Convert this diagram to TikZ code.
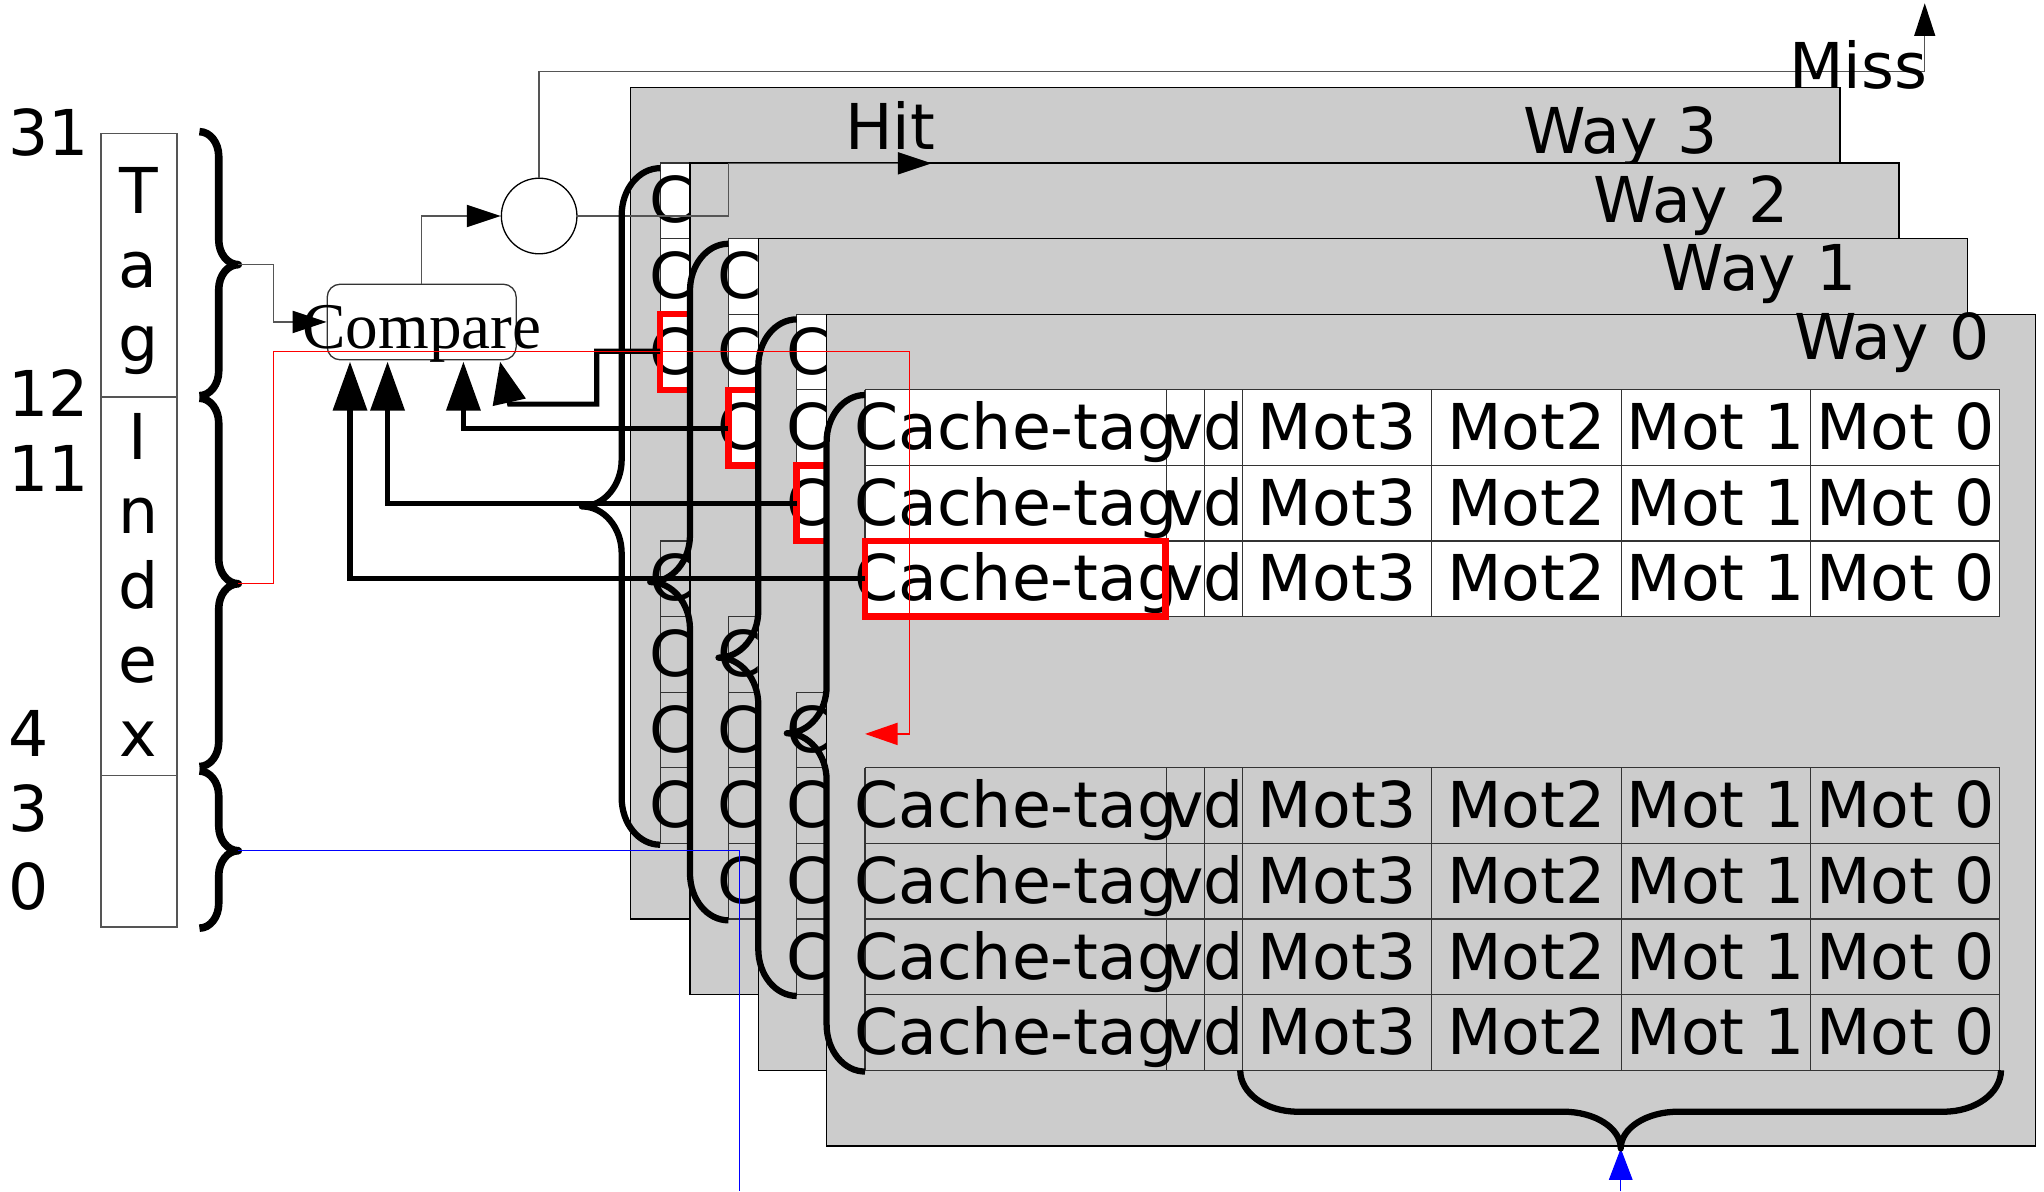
\documentclass[tikz,border=0pt]{standalone}
\usepackage{fontspec}
\setmainfont{DejaVu Sans}
\newfontfamily\cmpserif{Liberation Serif}
\usetikzlibrary{arrows.meta}
\definecolor{waygray}{HTML}{CCCCCC}
\definecolor{lgray}{HTML}{555555}
\definecolor{gridc}{HTML}{333333}
\newcommand\wayfont{\fontsize{48.5}{58}\selectfont}
\tikzset{
 celltext/.style={anchor=base,inner sep=0pt,font=\wayfont},
 bigtext/.style={anchor=base,inner sep=0pt,font=\wayfont},
 wayedge/.style={draw=black,line width=1pt},
 gridline/.style={draw=gridc,line width=0.9pt},
 redbox/.style={draw=red,line width=5pt},
 thinconn/.style={draw=lgray,line width=1.1pt},
 bracestyle/.style={draw=black,line width=4.8pt,line join=round},
 leftbrace/.style={draw=black,line width=5.8pt,line join=round},
 thickconn/.style={draw=black,line width=4pt},
 bigtip/.style={-{Triangle[length=37.6pt,width=25.7pt]}},
 smalltip/.style={-{Triangle[length=26pt,width=17pt,color=black]}},
 fieldbox/.style={draw=lgray,line width=1.1pt,minimum width=58.2pt,inner sep=0pt,anchor=north west},
}
% one way of the cache, drawn at its offset
\newcommand\drawway[2]{%
\begin{scope}[shift={(-52.4*#1,-58*#1)}]
 \fill[waygray] ({634+#2},241.1) rectangle ({1561.6+#2},879);
 \draw[wayedge] ({634+#2},241.1) rectangle ({1561.6+#2},879);
 \fill[white] (663.6,299) rectangle (1534,473);
 \foreach \y in {299,357,415,473,589,647,705,763,821} \draw[gridline] (663.6,\y) -- (1534,\y);
 \foreach \x in {663.6,895,924,953,1098.3,1243.6,1388.9,1534} {\draw[gridline] (\x,299) -- (\x,473); \draw[gridline] (\x,589) -- (\x,821);}
 \foreach \ry [count=\ri] in {299,357,415,589,647,705,763} {
   \foreach \cx/\txt [count=\ci] in {779.3/Cache-tag,909.5/v,938.5/d,1025.7/Mot3,1171/Mot2,1316.3/Mot 1,1461.5/Mot 0}
     \node[celltext] (w#1-\ri-\ci) at (\cx,\ry+46) {\txt};
 }
 \draw[redbox] (663.6,415) rectangle (894,473);
\end{scope}}
% vertical brace: xend, xvert, xtip, ytop, ymid, ybot, r, style
\newcommand\vbrace[8]{%
 \draw[#8] (#1,#4) .. controls ({(#1)+0.552*((#2)-(#1))},#4) and (#2,{(#4)+0.448*(#7)}) .. (#2,{(#4)+(#7)})
 -- (#2,{(#5)-(#7)}) .. controls (#2,{(#5)-0.448*(#7)}) and ({(#3)+0.552*((#2)-(#3))},#5) .. (#3,#5)
 .. controls ({(#3)+0.552*((#2)-(#3))},#5) and (#2,{(#5)+0.448*(#7)}) .. (#2,{(#5)+(#7)})
 -- (#2,{(#6)-(#7)}) .. controls (#2,{(#6)-0.448*(#7)}) and ({(#1)+0.552*((#2)-(#1))},#6) .. (#1,#6);}
\newcommand\wbrace[1]{%
 \pgfmathsetmacro\xt{663.6-52.4*#1}%
 \pgfmathsetmacro\yt{303-58*#1}%
 \pgfmathsetmacro\yb{822-58*#1}%
 \pgfmathsetmacro\ym{562.5-58*#1}%
 \vbrace{\xt}{\xt-29.5}{\xt-60}{\yt}{\ym}{\yb}{36}{bracestyle}}
\begin{document}
\begin{tikzpicture}[x=1pt,y=-1pt]
\useasboundingbox (0,0) rectangle (1568,914);

\drawway{3}{7}
\node[bigtext] (lw3) at (1243.3,118) {Way 3};
\drawway{2}{0}
\node[bigtext] (lw2) at (1297.3,170.8) {Way 2};
\drawway{1}{0}
\node[bigtext] (lw1) at (1349.4,223.2) {Way 1};
\drawway{0}{0}
\node[bigtext] (lw0) at (1451.2,275.7) {Way 0};

% address fields
\node[fieldbox,minimum height=202pt] (tagf) at (77,102) {};
\node[fieldbox,minimum height=290.5pt] (idxf) at (77,304) {};
\node[fieldbox,minimum height=116.2pt] (offf) at (77,594.5) {};
\foreach \ch/\yb [count=\i] in {T/164,a/220.5,g/277.5,I/352.5,n/409.5,d/466.5,e/523.5,x/580.5}
  \node[bigtext] (ltr\i) at (106.1,\yb) {\ch};
\foreach \nm/\yb [count=\i] in {31/118.9,12/319.6,11/377.4,4/580,3/638,0/697.4}
  \node[bigtext,anchor=base west] (bit\i) at (6.5,\yb) {\nm};

\vbrace{153}{167.8}{182.8}{101}{203}{303.5}{19}{leftbrace}
\vbrace{153}{167.8}{182.8}{305.5}{447.8}{588}{19}{leftbrace}
\vbrace{153}{167.8}{182.8}{591.5}{652.6}{712}{19}{leftbrace}
\coordinate (tagtip) at (182.8,203);
\coordinate (idxtip) at (182.8,447.8);
\coordinate (offtip) at (182.8,652.6);

% compare and hit/miss
\node[draw=gridc,line width=1pt,rounded corners=10pt,fill=white,minimum width=145pt,minimum height=58pt,inner sep=0pt] (cmp) at (323.5,247) {};
\node[draw=black,line width=1pt,circle,minimum size=58pt,inner sep=0pt,fill=white] (hc) at (413.6,165.7) {};
\draw[thinconn,smalltip] (tagtip) -- (210,203) -- (210,247) -- (cmp.west);
\draw[thinconn,smalltip] (cmp.north) -- (323.5,165.7) -- (hc.west);
\coordinate (missend) at (1476.5,2.5);
\draw[thinconn,-{Triangle[length=25pt,width=16pt,color=black]}] (hc.north) -- (413.6,55) -- (1476.5,55) -- (missend);
\coordinate (hitend) at (714.7,125.3);
\draw[thinconn,smalltip] (hc.east) -- (558.7,165.7) -- (558.7,125.3) -- (hitend);
\node[bigtext] (miss) at (1425.3,67.8) {Miss};
\node[bigtext] (hit) at (682.8,114.5) {Hit};
\node[anchor=base,inner sep=0pt,font=\cmpserif\fontsize{50}{60}\selectfont] (cmptxt) at (323.5,267) {Compare};

% way braces
\wbrace{3}
\wbrace{2}
\wbrace{1}
\wbrace{0}

% tag lines to compare
\coordinate (src0) at (663.6,443.6);
\coordinate (src1) at (611.1,386);
\coordinate (src2) at (558.7,328.6);
\coordinate (src3) at (506.3,269.5);
\coordinate (in0) at (268.5,277.4);
\coordinate (in1) at (297.3,277.4);
\coordinate (in2) at (355.5,277.4);
\coordinate (in3) at (383.6,277.4);
\draw[thickconn,bigtip] (src0) -| (in0);
\draw[thickconn,bigtip] (src1) -| (in1);
\draw[thickconn,bigtip] (src2) -| (in2);
\draw[thickconn,-{Triangle[length=32pt,width=25pt]}] (src3) -- (457.7,269.5) -- (457.7,310) -- (391,310) -- (in3);

% index line
\coordinate (redend) at (663.6,563);
\draw[draw=red,line width=1.1pt,-{Triangle[length=25pt,width=17pt]}] (idxtip) -- (210,447.8) -- (210,269.8) -- (697.7,269.8) -- (697.7,563) -- (redend);

% offset line
\coordinate (blueend) at (567.2,914);
\draw[draw=blue,line width=1pt] (offtip) -- (567.2,652.6) -- (blueend);
\coordinate (bluestart) at (1243.3,914);
\coordinate (btip) at (1243.3,881);
\draw[draw=blue,line width=1pt,-{Triangle[length=24pt,width=18pt]}] (bluestart) -- (btip);

% word brace
\draw[bracestyle] (951.4,821) .. controls (951.4,838.6) and (971.1,852.8) .. (995.4,852.8)
  -- (1199.3,852.8) .. controls (1223.6,852.8) and (1243.3,865.4) .. (1243.3,881)
  .. controls (1243.3,865.4) and (1263,852.8) .. (1287.3,852.8)
  -- (1491,852.8) .. controls (1515.3,852.8) and (1535,838.6) .. (1535,821);
\end{tikzpicture}
\end{document}
